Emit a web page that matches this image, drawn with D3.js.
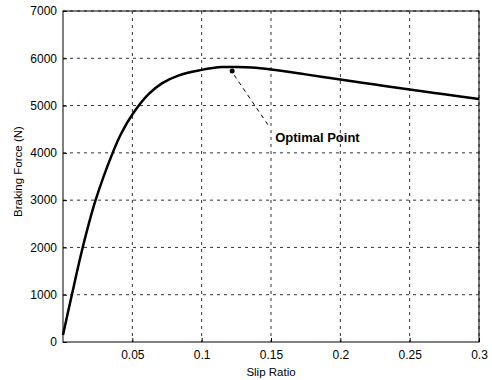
<!DOCTYPE html>
<html>
<head>
<meta charset="utf-8">
<script src="https://cdn.jsdelivr.net/npm/d3@7"></script>
<style>
  body { margin: 0; background: #fff; }
  svg { display: block; font-family: "Liberation Sans", Arial, sans-serif; }
</style>
</head>
<body>
<svg id="chart" width="492" height="380"></svg>
<script>
// Braking force vs slip ratio
const slipRatio = [0, 0.0064, 0.0142, 0.0235, 0.0358, 0.042, 0.05, 0.0615, 0.0713, 0.0836, 0.1, 0.108, 0.115, 0.125, 0.136, 0.15, 0.175, 0.2, 0.225, 0.25, 0.275, 0.3];
const brakingForce = [150, 1000, 2000, 3000, 4000, 4410, 4810, 5235, 5470, 5640, 5755, 5795, 5815, 5815, 5805, 5765, 5660, 5550, 5445, 5340, 5240, 5140];
const xTicks = [0.05, 0.1, 0.15, 0.2, 0.25, 0.3];
const yTicks = [0, 1000, 2000, 3000, 4000, 5000, 6000, 7000];
const optimalPoint = { slip: 0.122, force: 5750, label: "Optimal Point" };

const width = 492, height = 380;
const margin = { top: 11, right: 13, bottom: 38, left: 63 };
const innerW = width - margin.left - margin.right;
const innerH = height - margin.top - margin.bottom;

const svg = d3.select("#chart");
const g = svg.append("g").attr("transform", `translate(${margin.left},${margin.top})`);

const x = d3.scaleLinear().domain([0, 0.3]).range([0, innerW]);
const y = d3.scaleLinear().domain([0, 7000]).range([innerH, 0]);

// Grid (dotted, MATLAB style)
g.append("g")
    .selectAll("line")
    .data(xTicks)
    .enter()
    .append("line")
    .attr("x1", d => x(d)).attr("x2", d => x(d))
    .attr("y1", 0).attr("y2", innerH)
    .attr("stroke", "#333")
    .attr("stroke-width", 1)
    .attr("stroke-dasharray", "3,4");

g.append("g")
    .selectAll("line")
    .data(yTicks.filter(d => d > 0))
    .enter()
    .append("line")
    .attr("x1", 0).attr("x2", innerW)
    .attr("y1", d => y(d)).attr("y2", d => y(d))
    .attr("stroke", "#333")
    .attr("stroke-width", 1)
    .attr("stroke-dasharray", "3,4");

// Axes (ticks pointing inward, labels outside)
const xAxis = g.append("g")
    .attr("transform", `translate(0,${innerH})`)
    .call(d3.axisBottom(x).tickValues(xTicks).tickSize(-4).tickPadding(8).tickFormat(d3.format("")));
const yAxis = g.append("g")
    .call(d3.axisLeft(y).tickValues(yTicks).tickSize(-4).tickPadding(6).tickFormat(d3.format("d")));

[xAxis, yAxis].forEach(a => {
    a.select(".domain").remove();
    a.selectAll("line").attr("stroke", "#000");
    a.selectAll("text")
        .attr("fill", "#000")
        .style("font-size", "12px")
        .style("font-family", "'Liberation Sans', Arial, sans-serif");
});
xAxis.selectAll("text").attr("dy", "0.71em");

// Box frame
g.append("rect")
    .attr("x", 0).attr("y", 0)
    .attr("width", innerW).attr("height", innerH)
    .attr("fill", "none")
    .attr("stroke", "#000")
    .attr("stroke-width", 1);

// Curve
const line = d3.line()
    .x((d, i) => x(slipRatio[i]))
    .y(d => y(d))
    .curve(d3.curveCatmullRom.alpha(0.5));

g.append("path")
    .datum(brakingForce)
    .attr("d", line)
    .attr("fill", "none")
    .attr("stroke", "#000")
    .attr("stroke-width", 2.5)
    .attr("stroke-linejoin", "round");

// Optimal point annotation
const px = x(optimalPoint.slip), py = y(optimalPoint.force);
g.append("circle")
    .attr("cx", px).attr("cy", py + 1)
    .attr("r", 2.5)
    .attr("fill", "#000");

g.append("line")
    .attr("x1", px + 2).attr("y1", py + 5)
    .attr("x2", px + 38).attr("y2", py + 58)
    .attr("stroke", "#000")
    .attr("stroke-width", 1)
    .attr("stroke-dasharray", "4,4");

g.append("text")
    .attr("x", px + 43)
    .attr("y", py + 72)
    .style("font-size", "13px")
    .style("font-weight", "bold")
    .text(optimalPoint.label);

// Axis titles
svg.append("text")
    .attr("x", margin.left + innerW / 2)
    .attr("y", 376)
    .attr("text-anchor", "middle")
    .style("font-size", "11.5px")
    .text("Slip Ratio");

svg.append("text")
    .attr("transform", `translate(22,${margin.top + innerH / 2 - 5}) rotate(-90)`)
    .attr("text-anchor", "middle")
    .style("font-size", "11.5px")
    .text("Braking Force (N)");
</script>
</body>
</html>
